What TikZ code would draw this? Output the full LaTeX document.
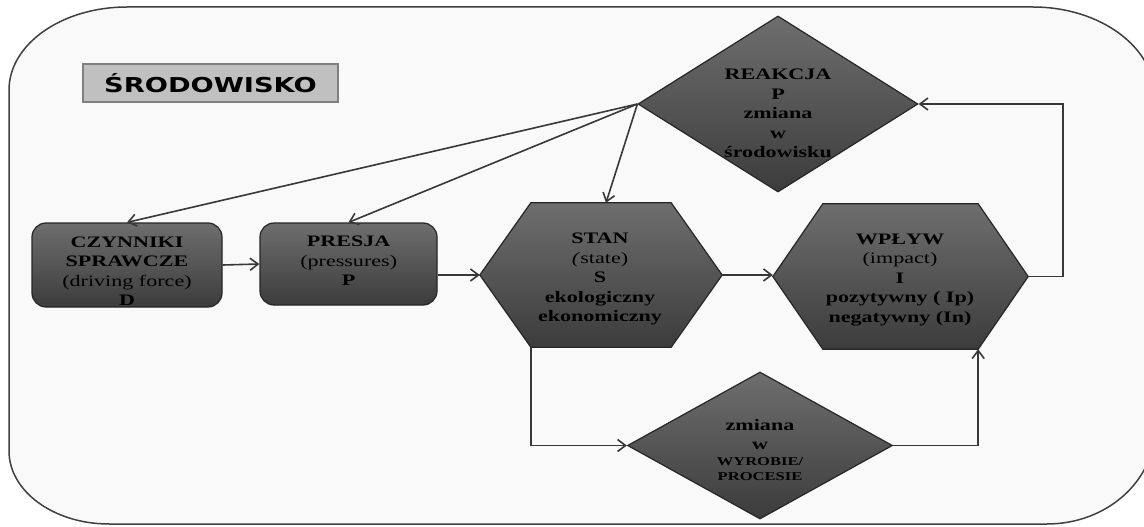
\documentclass[tikz,border=0pt]{standalone}
\usepackage{fontspec}
\setmainfont{Liberation Serif}[FakeStretch=1.38]
\newfontfamily\titlefont{DejaVu Sans}[FakeStretch=1.33]
\usetikzlibrary{arrows.meta,shapes.geometric,calc}
\definecolor{linegray}{HTML}{383838}
\definecolor{framegray}{HTML}{404040}
\definecolor{paper}{HTML}{F9F9F9}
\definecolor{shadetop}{HTML}{6E6E6E}
\definecolor{shademid}{HTML}{8E8E8E}
\definecolor{shadebot}{HTML}{3C3C3C}
\definecolor{titlefill}{HTML}{C0C0C0}
\definecolor{titleline}{HTML}{808080}
\begin{document}
\begin{tikzpicture}[x=1pt,y=-1pt,
  conn/.style={draw=linegray, line width=1.6pt, -{Straight Barb[length=8pt,width=12pt]}},
  shadefill/.style={draw=black!85, line width=1.2pt, top color=shadetop, middle color=shademid, bottom color=shadebot},
  box/.style={shadefill, rectangle, rounded corners=14pt, inner sep=0pt},
  diam/.style={shadefill, diamond, inner sep=0pt},
  holder/.style={rectangle, inner sep=0pt},
  txt/.style={align=center, font=\fontsize{16}{19.5}\selectfont\bfseries, inner sep=0pt, text=black},
  titlebox/.style={rectangle, fill=titlefill, draw=titleline, line width=2.5pt, inner sep=0pt,
    font=\titlefont\fontsize{20.5}{24}\selectfont\bfseries}
]
\useasboundingbox (0,0) rectangle (1144,527);
\fill[white] (0,0) rectangle (1144,527);
\begin{scope}
\clip (0,0) rectangle (1144,527);
\path[fill=paper, draw=framegray, line width=1.5pt]
  (9,90) .. controls (9,44.2) and (61.9,7) .. (127,7)
  -- (1033,7) .. controls (1100.3,7) and (1155,47.3) .. (1155,97)
  -- (1155,428) .. controls (1155,481) and (1106.6,524) .. (1047,524)
  -- (109,524) .. controls (53.8,524) and (9,491.3) .. (9,451) -- cycle;
\end{scope}

% title
\node[titlebox, minimum width=255pt, minimum height=38pt] (title) at (210.5,83) {ŚRODOWISKO};

% shapes
\node[box, minimum width=190pt, minimum height=84pt] (czyn) at (127,265) {};
\node[box, minimum width=177pt, minimum height=82pt] (pres) at (348.5,264) {};
\node[holder, minimum width=242pt, minimum height=144pt] (stan) at (601,275) {};
\node[holder, minimum width=255pt, minimum height=145pt] (wply) at (900.5,276.5) {};
\node[diam, minimum width=280pt, minimum height=176pt] (reak) at (778,104) {};
\node[diam, minimum width=265pt, minimum height=147pt] (low) at (760,445.5) {};

\path[shadefill] (stan.west) -- ($(stan.north west)+(51,0)$) -- ($(stan.north east)+(-51,0)$)
  -- (stan.east) -- ($(stan.south east)+(-51,0)$) -- ($(stan.south west)+(51,0)$) -- cycle;
\path[shadefill] (wply.west) -- ($(wply.north west)+(50,0)$) -- ($(wply.north east)+(-50,0)$)
  -- (wply.east) -- ($(wply.south east)+(-50,0)$) -- ($(wply.south west)+(50,0)$) -- cycle;

\coordinate (stanbl) at ($(stan.south west)+(51,0)$);
\coordinate (wplybr) at ($(wply.south east)+(-50,0)$);
\coordinate (rk) at (1063,104);

% texts
\node[txt] (czyn-t) at (127,271) {CZYNNIKI\\SPRAWCZE\\{\mdseries (driving force)}\\D};
\node[txt] (pres-t) at (348.7,261) {PRESJA\\{\mdseries (pressures)}\\P};
\node[txt] (stan-t) at (600,279) {STAN\\{\mdseries\textit{(}state)}\\S\\ekologiczny\\ekonomiczny};
\node[txt] (wply-t) at (900,280) {WPŁYW\\{\mdseries (impact)}\\I\\pozytywny ( Ip)\\negatywny (In)};
\node[txt] (reak-t) at (778,113.5) {REAKCJA\\P\\zmiana\\w\\środowisku};
\node[txt] (low-t) at (760,450) {zmiana\\w\\[-4pt]{\fontsize{12}{15}\selectfont WYROBIE/}\\[-4pt]{\fontsize{12}{15}\selectfont PROCESIE}};

% connectors
\draw[conn] (reak.west) -- (czyn.north);
\draw[conn] (reak.west) -- (pres.north);
\draw[conn] (reak.west) -- ($(stan.north)+(5,0)$);
\draw[conn] (czyn.east) -- (pres.west);
\draw[conn] (pres.east |- stan.west) -- (stan.west);
\draw[conn] (stan.east) -- (stan.east -| wply.west);
\draw[conn] (wply.east) -| (rk) -- (reak.east);
\draw[conn] (stanbl) |- (low.west);
\draw[conn] (low.east) -| (wplybr);
\end{tikzpicture}
\end{document}
